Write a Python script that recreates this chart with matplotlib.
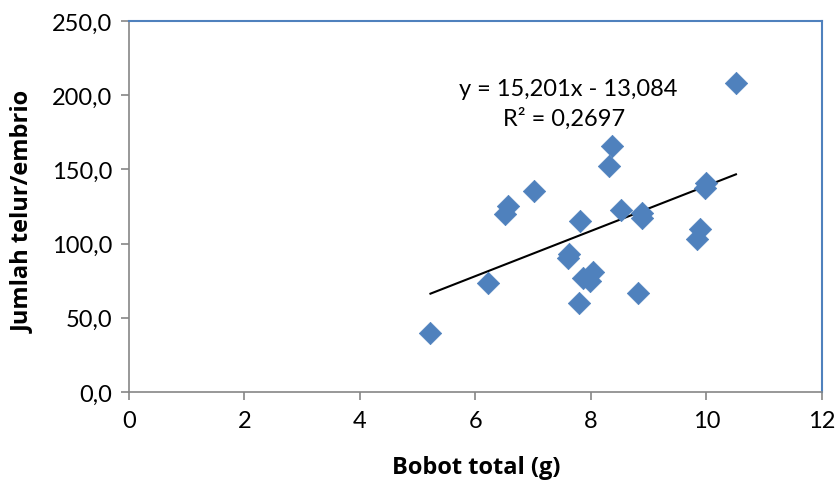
import matplotlib
matplotlib.use("Agg")
import matplotlib.pyplot as plt
import numpy as np

# Data
bobot_total = [5.22, 6.21, 6.51, 6.56, 7.02, 7.81, 7.62, 7.60, 7.79, 7.86, 7.98, 8.04,
               8.32, 8.37, 8.52, 8.82, 8.88, 8.89, 9.84, 9.89, 9.98, 10.0, 10.51]
jumlah_telur = [39.5, 73.5, 120.0, 125.5, 135.5, 115.5, 93.0, 90.0, 60.0, 76.5, 75.0, 81.0,
                152.0, 166.0, 122.5, 66.5, 120.5, 117.5, 103.0, 110.0, 137.5, 141.0, 208.0]
slope = 15.201
intercept = -13.084
r_squared_text = "R² = 0,2697"
equation_text = "y = 15,201x - 13,084"
x_ticks = [0, 2, 4, 6, 8, 10, 12]
y_ticks = [0, 50, 100, 150, 200, 250]

plt.rcParams['font.family'] = ['Lato', 'DejaVu Sans']

fig = plt.figure(figsize=(8.37, 4.81), dpi=100)
ax = fig.add_axes([129/837, 1 - 393/481, (822-129)/837, (393-22)/481])

ax.scatter(bobot_total, jumlah_telur, marker='D', s=130, color='#4F81BD',
           edgecolors='#4F81BD', linewidths=0.5, zorder=3)

xl = np.array([min(bobot_total), max(bobot_total)])
ax.plot(xl, slope * xl + intercept, color='black', lw=1.5, zorder=2)

ax.set_xlim(0, 12)
ax.set_ylim(0, 250)
ax.set_xticks(x_ticks)
ax.set_xticklabels([str(t) for t in x_ticks])
ax.set_yticks(y_ticks)
ax.set_yticklabels([f"{t:.1f}".replace('.', ',') for t in y_ticks])

for s in ['left', 'bottom']:
    ax.spines[s].set_color('#868686')
    ax.spines[s].set_linewidth(1.2)
for s in ['top', 'right']:
    ax.spines[s].set_color('#4F81BD')
    ax.spines[s].set_linewidth(1.5)

ax.tick_params(axis='both', direction='out', length=6, width=1.2, color='#868686',
               labelsize=17, labelcolor='black')
ax.tick_params(axis='x', pad=7)
ax.tick_params(axis='y', pad=6)

label_font = dict(family=['Open Sans', 'DejaVu Sans'], fontsize=17, fontweight='bold')
fig.text(476/837, 1 - 468/481, "Bobot total (g)", ha='center', va='center', **label_font)
fig.text(23/837, 1 - 212/481, "Jumlah telur/embrio", ha='center', va='center',
         rotation=90, **label_font)

fig.text(568/837, 1 - 90/481, equation_text, fontsize=17, ha='center', va='center')
fig.text(564/837, 1 - 119/481, r_squared_text, fontsize=17, ha='center', va='center')

fig.savefig("out.png", dpi=100)
